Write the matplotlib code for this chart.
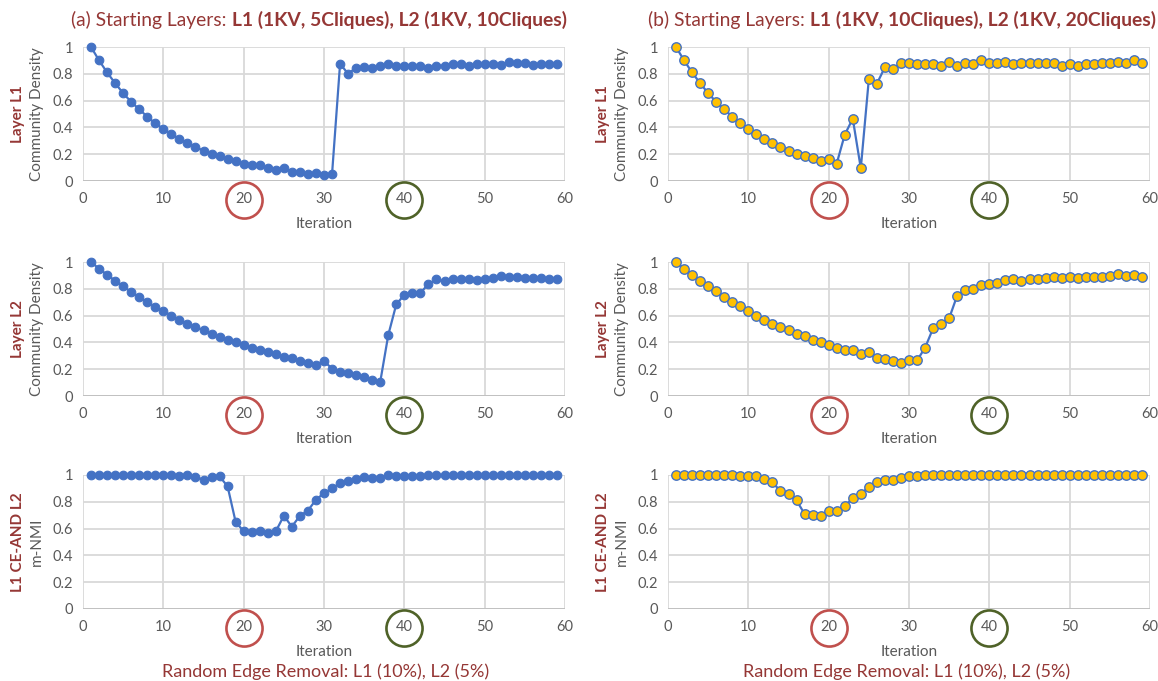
import numpy as np
import matplotlib
matplotlib.use("Agg")
import matplotlib.pyplot as plt
from matplotlib.offsetbox import TextArea, HPacker, AnnotationBbox

plt.rcParams['font.family'] = ['Lato', 'DejaVu Sans']

iterations = np.arange(1, 60)

# (a) Starting layers: L1 (1KV, 5 cliques), L2 (1KV, 10 cliques)
a_l1_density = [1.0, 0.9, 0.81, 0.73, 0.655, 0.59, 0.535, 0.48, 0.43, 0.39,
                0.35, 0.315, 0.285, 0.255, 0.225, 0.2, 0.185, 0.165, 0.15, 0.13,
                0.12, 0.12, 0.095, 0.085, 0.1, 0.07, 0.065, 0.055, 0.06, 0.045,
                0.05, 0.875, 0.8, 0.845, 0.85, 0.84, 0.86, 0.87, 0.855, 0.855,
                0.855, 0.86, 0.84, 0.86, 0.86, 0.87, 0.875, 0.855, 0.87, 0.875,
                0.87, 0.865, 0.89, 0.88, 0.88, 0.865, 0.87, 0.875, 0.875]
a_l2_density = [1.0, 0.95, 0.905, 0.86, 0.82, 0.775, 0.74, 0.7, 0.665, 0.635,
                0.6, 0.57, 0.54, 0.515, 0.49, 0.465, 0.44, 0.42, 0.4, 0.38,
                0.36, 0.345, 0.325, 0.31, 0.29, 0.28, 0.26, 0.245, 0.235, 0.26,
                0.205, 0.18, 0.175, 0.16, 0.14, 0.12, 0.105, 0.455, 0.685, 0.755,
                0.77, 0.77, 0.835, 0.87, 0.855, 0.87, 0.87, 0.87, 0.865, 0.875,
                0.88, 0.895, 0.89, 0.89, 0.88, 0.88, 0.88, 0.87, 0.87]
a_nmi = [1.0, 1.0, 1.0, 1.0, 1.0, 1.0, 1.0, 1.0, 1.0, 1.0,
         1.0, 0.99, 1.0, 0.985, 0.965, 0.985, 0.99, 0.915, 0.65, 0.58,
         0.575, 0.585, 0.565, 0.58, 0.695, 0.615, 0.695, 0.735, 0.815, 0.865,
         0.9, 0.94, 0.955, 0.97, 0.985, 0.975, 0.975, 1.0, 0.995, 0.995,
         0.99, 0.995, 1.0, 1.0, 1.0, 1.0, 1.0, 1.0, 1.0, 1.0,
         1.0, 1.0, 1.0, 1.0, 1.0, 1.0, 1.0, 1.0, 1.0]

# (b) Starting layers: L1 (1KV, 10 cliques), L2 (1KV, 20 cliques)
b_l1_density = [1.0, 0.9, 0.81, 0.73, 0.655, 0.59, 0.535, 0.48, 0.43, 0.39,
                0.35, 0.315, 0.285, 0.255, 0.225, 0.2, 0.185, 0.17, 0.15, 0.165,
                0.13, 0.345, 0.465, 0.095, 0.76, 0.725, 0.85, 0.835, 0.88, 0.88,
                0.875, 0.87, 0.87, 0.855, 0.89, 0.86, 0.88, 0.875, 0.9, 0.88,
                0.88, 0.89, 0.875, 0.88, 0.88, 0.88, 0.88, 0.88, 0.86, 0.875,
                0.855, 0.875, 0.875, 0.88, 0.88, 0.885, 0.88, 0.9, 0.88]
b_l2_density = [1.0, 0.95, 0.905, 0.86, 0.82, 0.78, 0.74, 0.705, 0.67, 0.635,
                0.6, 0.57, 0.54, 0.515, 0.49, 0.465, 0.445, 0.42, 0.4, 0.38,
                0.36, 0.345, 0.34, 0.31, 0.33, 0.28, 0.275, 0.26, 0.25, 0.265,
                0.265, 0.36, 0.505, 0.535, 0.58, 0.75, 0.79, 0.795, 0.83, 0.835,
                0.84, 0.865, 0.875, 0.86, 0.875, 0.875, 0.88, 0.885, 0.88, 0.885,
                0.88, 0.885, 0.89, 0.89, 0.895, 0.91, 0.895, 0.9, 0.89]
b_nmi = [1.0, 1.0, 1.0, 1.0, 1.0, 1.0, 1.0, 1.0, 0.99, 0.99,
         0.995, 0.97, 0.945, 0.88, 0.86, 0.81, 0.71, 0.7, 0.695, 0.735,
         0.73, 0.77, 0.825, 0.86, 0.91, 0.95, 0.965, 0.96, 0.975, 0.99,
         0.995, 1.0, 1.0, 1.0, 1.0, 1.0, 1.0, 1.0, 1.0, 1.0,
         1.0, 1.0, 1.0, 1.0, 1.0, 1.0, 1.0, 1.0, 1.0, 1.0,
         1.0, 1.0, 1.0, 1.0, 1.0, 1.0, 1.0, 1.0, 1.0]

x_ticks = [0, 10, 20, 30, 40, 50, 60]
y_ticks = [0, 0.2, 0.4, 0.6, 0.8, 1.0]
y_tick_labels = ["0", "0.2", "0.4", "0.6", "0.8", "1"]
row_titles = [("Layer L1", "Community Density"),
              ("Layer L2", "Community Density"),
              ("L1 CE-AND L2", "m-NMI")]
highlight_iters = [(20, "#C0504D"), (40, "#4F6228")]

BLUE = "#4472C4"
GOLD = "#FFC000"
DARK_RED = "#953735"
GRAY_TXT = "#595959"
GRID = "#D9D9D9"

W, H = 1158, 681
fig = plt.figure(figsize=(W / 100, H / 100), dpi=100)

col_x0 = [83, 668]
ax_w = 482
row_y0 = [181, 396, 609]   # pixel row (from top) of y = 0
ax_h = 134

columns = [
    dict(series=[a_l1_density, a_l2_density, a_nmi], face=BLUE, edge=BLUE, ms=6.2, mew=0.8),
    dict(series=[b_l1_density, b_l2_density, b_nmi], face=GOLD, edge=BLUE, ms=6.8, mew=1.0),
]

for c, col in enumerate(columns):
    for r in range(3):
        left = col_x0[c] / W
        bottom = 1 - row_y0[r] / H
        ax = fig.add_axes([left, bottom, ax_w / W, ax_h / H])
        ax.plot(iterations, col["series"][r], color=BLUE, lw=1.6,
                marker="o", ms=col["ms"], mfc=col["face"], mec=col["edge"],
                mew=col["mew"], zorder=3, clip_on=False)
        ax.set_xlim(0, 60)
        ax.set_ylim(0, 1)
        ax.set_xticks(x_ticks)
        ax.set_yticks(y_ticks)
        ax.set_yticklabels(y_tick_labels)
        ax.tick_params(length=0, labelsize=10.5, labelcolor=GRAY_TXT)
        ax.tick_params(axis="x", pad=8)
        ax.tick_params(axis="y", pad=7)
        for s in ax.spines.values():
            s.set_visible(False)
        ax.grid(True, color=GRID, lw=1.3, zorder=0)
        ax.axhline(0, color="#BFBFBF", lw=1.3, zorder=1)
        ax.set_axisbelow(True)
        ax.set_xlabel("Iteration", fontsize=11, color=GRAY_TXT, va="center")
        ax.xaxis.set_label_coords(0.5, -43 / ax_h)

        # rings around the highlighted iteration labels
        for it, colr in highlight_iters:
            ax.plot([it], [-19 / ax_h], marker="o", ms=26, mfc="none",
                    mec=colr, mew=1.9, transform=ax.get_xaxis_transform(),
                    clip_on=False, zorder=5)

        # two-line y label: bold row name plus metric name
        yc = 1 - (row_y0[r] - ax_h / 2) / H
        xoff = col_x0[c] - 83
        fig.text((18 + xoff) / W, yc, row_titles[r][0], rotation=90,
                 ha="center", va="center", fontsize=11, fontweight="bold",
                 color=DARK_RED)
        fig.text((37 + xoff) / W, yc, row_titles[r][1], rotation=90,
                 ha="center", va="center", fontsize=11, color=GRAY_TXT)


def mixed_title(parts, xc, yc):
    boxes = [TextArea(t, textprops=dict(fontsize=13.9, color=DARK_RED,
                                        fontweight=w)) for t, w in parts]
    pack = HPacker(children=boxes, align="baseline", pad=0, sep=4)
    ab = AnnotationBbox(pack, (xc / W, 1 - yc / H), xycoords="figure fraction",
                        frameon=False, box_alignment=(0.5, 0.5), pad=0)
    fig.add_artist(ab)


mixed_title([("(a) Starting Layers:", "normal"),
             ("L1 (1KV, 5Cliques), L2 (1KV, 10Cliques)", "bold")], 319, 20)
mixed_title([("(b) Starting Layers:", "normal"),
             ("L1 (1KV, 10Cliques), L2 (1KV, 20Cliques)", "bold")], 902, 20)

for xc in (326, 907):
    fig.text(xc / W, 1 - 672 / H, "Random Edge Removal: L1 (10%), L2 (5%)",
             ha="center", va="center", fontsize=13, color=DARK_RED)

fig.savefig("out.png", dpi=100, facecolor="white")
